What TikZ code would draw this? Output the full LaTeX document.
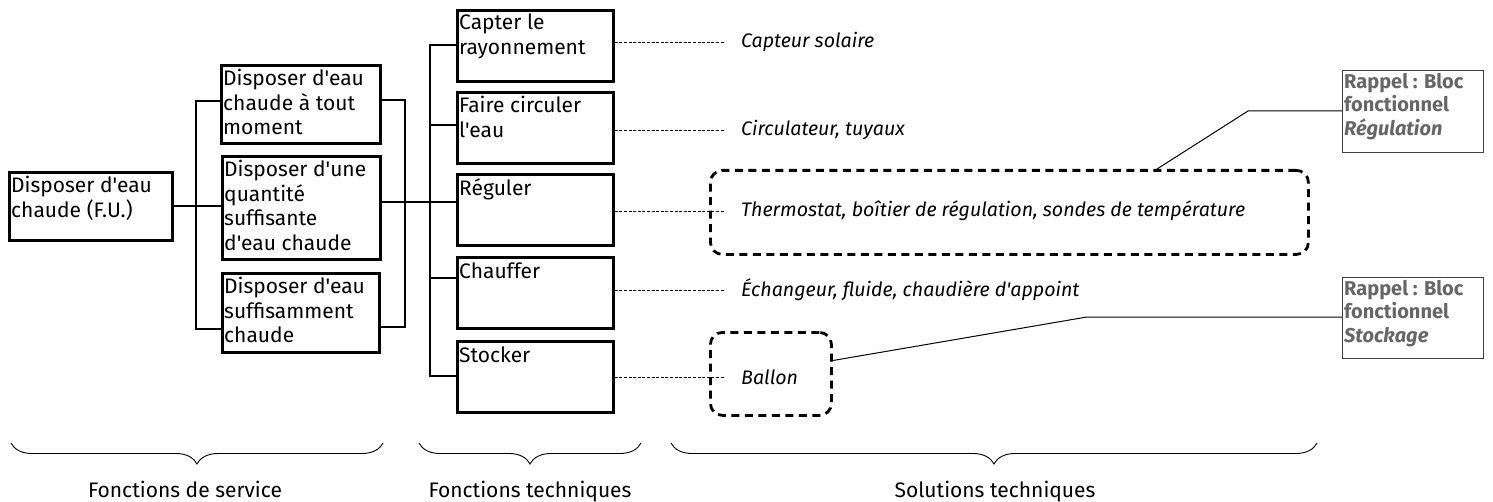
\documentclass[tikz,border=0pt]{standalone}
\usepackage{fontspec}
\setmainfont{Fira Sans}[Ligatures=TeXOff]
\usetikzlibrary{decorations.pathreplacing}
\newcommand\mainfs{\fontsize{21bp}{24.5bp}\selectfont}
\newcommand\solfs{\fontsize{19.6bp}{24bp}\selectfont}
\newcommand\notefs{\fontsize{20bp}{23.5bp}\selectfont}
\begin{document}
\begin{tikzpicture}[x=1bp,y=-1bp,
  box/.style={draw, line width=2.8bp, inner sep=0, anchor=north west},
  btxt/.style={anchor=north west, inner sep=0, align=left, font=\mainfs, execute at begin node=\strut},
  conn/.style={line width=1.3bp},
  thconn/.style={line width=2.2bp},
  dconn/.style={line width=0.9bp, dash pattern=on 3bp off 1.6bp},
  sol/.style={anchor=west, inner sep=0, font=\solfs\itshape},
  dbox/.style={draw, line width=2.8bp, dash pattern=on 8bp off 5.5bp, rounded corners=12bp, inner sep=0, anchor=north west},
  nbox/.style={draw=black!75, line width=1bp, inner sep=0, anchor=north west},
  ntxt/.style={anchor=north west, inner sep=0, align=left, text=black!60, font=\notefs\bfseries, execute at begin node=\strut},
  call/.style={line width=1bp},
  brc/.style={decorate, decoration={brace, mirror, amplitude=21bp}, line width=0.9bp},
  lab/.style={inner sep=0, anchor=base, font=\mainfs}
]
\useasboundingbox (0,0) rectangle (1493,502);

% service functions
\node[box, minimum width=163bp, minimum height=68bp] (fu) at (8,171) {};
\node[btxt] (fut) at ([shift={(3,5)}]fu.north west) {Disposer d'eau\\chaude (F.U.)};
\node[box, minimum width=159bp, minimum height=78bp] (a1) at (220,64) {};
\node[btxt] (a1t) at ([shift={(3,5)}]a1.north west) {Disposer d'eau\\chaude à tout\\moment};
\node[box, minimum width=158bp, minimum height=103bp] (a2) at (221,155) {};
\node[btxt] (a2t) at ([shift={(3,5)}]a2.north west) {Disposer d'une\\quantité\\suffisante\\d'eau chaude};
\node[box, minimum width=157bp, minimum height=79bp] (a3) at (221,272) {};
\node[btxt] (a3t) at ([shift={(3,5)}]a3.north west) {Disposer d'eau\\suffisamment\\chaude};

% technical functions
\node[box, minimum width=156bp, minimum height=71bp] (t1) at (456,9) {};
\node[btxt] (t1t) at ([shift={(3,5)}]t1.north west) {Capter le\\rayonnement};
\node[box, minimum width=156bp, minimum height=71bp] (t2) at (456,91) {};
\node[btxt] (t2t) at ([shift={(3,5)}]t2.north west) {Faire circuler\\l'eau};
\node[box, minimum width=156bp, minimum height=71bp] (t3) at (456,173) {};
\node[btxt] (t3t) at ([shift={(3,5)}]t3.north west) {Réguler};
\node[box, minimum width=156bp, minimum height=71bp] (t4) at (456,256) {};
\node[btxt] (t4t) at ([shift={(3,5)}]t4.north west) {Chauffer};
\node[box, minimum width=156bp, minimum height=71bp] (t5) at (456,340) {};
\node[btxt] (t5t) at ([shift={(3,5)}]t5.north west) {Stocker};

% bracket coordinates
\coordinate (lb1) at (196,101);
\coordinate (lb2) at (196,206);
\coordinate (lb3) at (196,329);
\coordinate (rb1) at (405,100);
\coordinate (rb2) at (405,202);
\coordinate (rb3) at (405,327);
\coordinate (tb1) at (430,45);
\coordinate (tb2) at (430,125);
\coordinate (tb3) at (430,202);
\coordinate (tb4) at (430,278);
\coordinate (tb5) at (430,376);

\draw[thconn] (fu.east |- lb2) -- (lb2);
\draw[conn] (a1.west |- lb1) -- (lb1) -- (lb3) -- (a3.west |- lb3);
\draw[conn] (lb2) -- (a2.west |- lb2);
\draw[conn] (a1.east |- rb1) -- (rb1) -- (rb3) -- (a3.east |- rb3);
\draw[thconn] (a2.east |- rb2) -- (tb3);
\draw[conn] (t1.west |- tb1) -- (tb1) -- (tb5) -- (t5.west |- tb5);
\draw[conn] (tb2) -- (t2.west |- tb2);
\draw[conn] (tb3) -- (t3.west |- tb3);
\draw[conn] (tb4) -- (t4.west |- tb4);

% technical solutions
\node[sol] (s1) at (741,42) {Capteur solaire};
\node[sol] (s2) at (741,130) {Circulateur, tuyaux};
\node[sol] (s3) at (741,211) {Thermostat, boîtier de régulation, sondes de température};
\node[sol] (s4) at (741,290) {Échangeur, fluide, chaudière d'appoint};
\node[sol] (s5) at (741,377) {Ballon};
\draw[dconn] (t1.east |- s1.west) -- ([xshift=-16bp]s1.west);
\draw[dconn] (t2.east |- s2.west) -- ([xshift=-16bp]s2.west);
\draw[dconn] (t3.east |- s3.west) -- ([xshift=-16bp]s3.west);
\draw[dconn] (t4.east |- s4.west) -- ([xshift=-16bp]s4.west);
\draw[dconn] (t5.east |- s5.west) -- ([xshift=-16bp]s5.west);

% dashed groups
\node[dbox, minimum width=598bp, minimum height=84bp] (g1) at (709,169) {};
\node[dbox, minimum width=121bp, minimum height=83bp] (g2) at (709,331) {};

% notes
\node[nbox, minimum width=141bp, minimum height=82bp] (r1) at (1342,70) {};
\node[ntxt] (r1t) at ([shift={(2,3)}]r1.north west) {Rappel : Bloc\\fonctionnel\\\textit{Régulation}};
\node[nbox, minimum width=141bp, minimum height=81bp] (r2) at (1342,277) {};
\node[ntxt] (r2t) at ([shift={(2,3)}]r2.north west) {Rappel : Bloc\\fonctionnel\\\textit{Stockage}};

\coordinate (g1p) at (1157,169);
\coordinate (k1) at (1248,111);
\coordinate (g2p) at (830,361);
\coordinate (k2) at (1087,317);
\draw[call] (g1p) -- (k1) -- (r1.west |- k1);
\draw[call] (g2p) -- (k2) -- (r2.west |- k2);

% braces
\draw[brc] (11,443) -- (383,443);
\draw[brc] (419,443) -- (641,443);
\draw[brc] (671,443) -- (1317,443);
\node[lab] (l1) at (185,497) {Fonctions de service};
\node[lab] (l2) at (530,497) {Fonctions techniques};
\node[lab] (l3) at (995,497) {Solutions techniques};
\end{tikzpicture}
\end{document}
